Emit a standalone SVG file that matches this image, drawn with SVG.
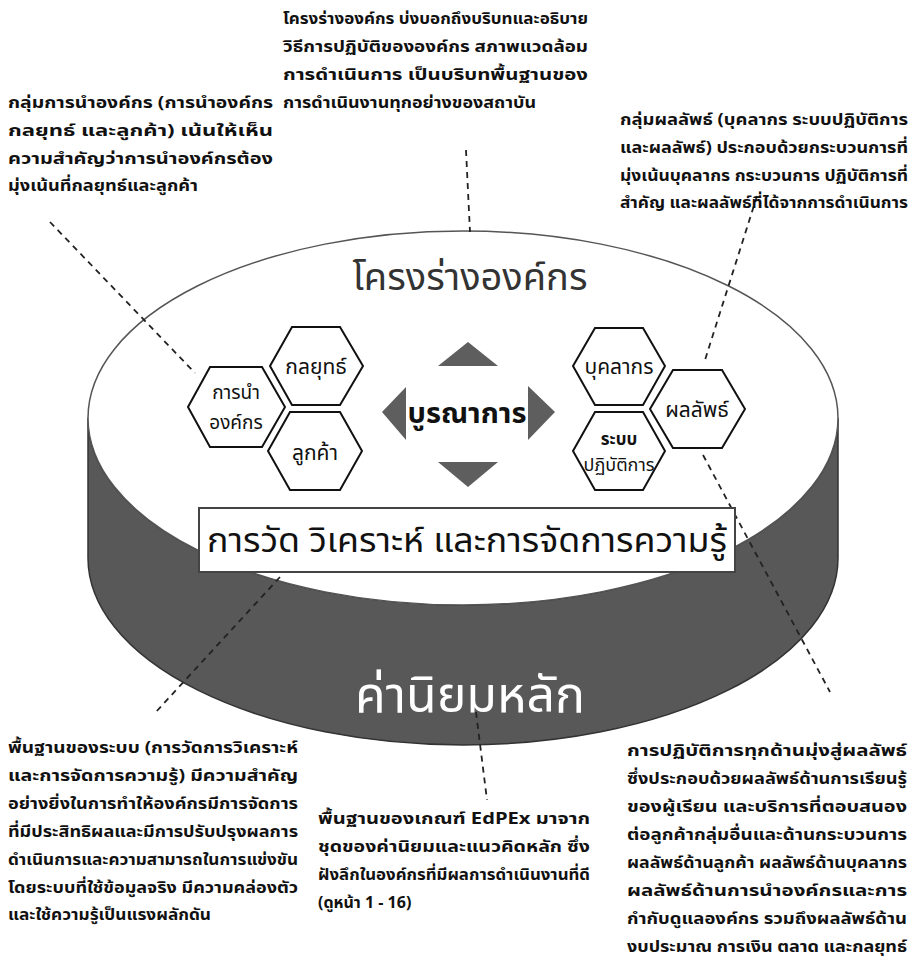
<svg xmlns="http://www.w3.org/2000/svg" width="914" height="964" viewBox="0 0 914 964">
<style>
.t{font-family:"Noto Sans Thai","Noto Sans","DejaVu Sans",sans-serif;fill:#111;}
.p{font-size:16px;font-weight:bold;}
.hx{fill:#fff;stroke:#111;stroke-width:2;}
.hl{font-size:21px;text-anchor:middle;}
.tri{fill:#5e5e5e;}
.dash{fill:none;stroke:#222;stroke-width:1.8;stroke-dasharray:6 5;}
</style>
<rect width="914" height="964" fill="#fff"/>
<g id="cylinder">
<path d="M88,418 A375,187 0 0 0 838,418 L838,558 A375,187 0 0 1 88,558 Z" fill="#585858" stroke="#333" stroke-width="1.5"/>
<ellipse cx="463" cy="418" rx="375" ry="187" fill="#fff" stroke="#555" stroke-width="1.5"/>
<text class="t" x="470" y="290" font-size="38" text-anchor="middle" style="fill:#333">โครงร่างองค์กร</text>
<text class="t" x="470" y="712" font-size="50" text-anchor="middle" style="fill:#fff">ค่านิยมหลัก</text>
</g>
<g id="connectors">
<line class="dash" x1="466" y1="150" x2="470" y2="232"/>
<line class="dash" x1="50" y1="222" x2="195" y2="373"/>
<line class="dash" x1="757" y1="196" x2="705" y2="360"/>
<line class="dash" x1="703" y1="455" x2="830" y2="692"/>
<line class="dash" x1="280" y1="577" x2="155" y2="713"/>
<line class="dash" x1="476" y1="712" x2="487" y2="800"/>
</g>
<g id="hex-lead">
<polygon class="hx" points="188,407 210,367 262,367 285,407 262,447 210,447"/>
<text class="t" x="236" y="399" font-size="19" text-anchor="middle">การนำ</text>
<text class="t" x="236" y="429" font-size="19" text-anchor="middle">องค์กร</text>
</g>
<g id="hex-strategy">
<polygon class="hx" points="270,366 292,327 340,327 363,366 340,405 292,405"/>
<text class="t hl" x="316" y="374">กลยุทธ์</text>
</g>
<g id="hex-customer">
<polygon class="hx" points="268,451 290,412 340,412 362,451 340,490 290,490"/>
<text class="t hl" x="315" y="460">ลูกค้า</text>
</g>
<g id="integration">
<polygon class="tri" points="468,342 438,366 498,366"/>
<polygon class="tri" points="382,412 406,387 406,440"/>
<polygon class="tri" points="555,412 528,386 528,440"/>
<polygon class="tri" points="468,487 438,462 498,462"/>
<text class="t" x="467" y="423" font-size="29" font-weight="bold" text-anchor="middle">บูรณาการ</text>
</g>
<g id="hex-workforce">
<polygon class="hx" points="573,366 595,328 643,328 665,366 643,405 595,405"/>
<text class="t hl" x="619" y="374">บุคลากร</text>
</g>
<g id="hex-operations">
<polygon class="hx" points="573,451 595,412 643,412 665,451 643,490 595,490"/>
<text class="t" x="619" y="445" font-size="17" font-weight="bold" text-anchor="middle">ระบบ</text>
<text class="t" x="619" y="471" font-size="18" text-anchor="middle">ปฏิบัติการ</text>
</g>
<g id="hex-results">
<polygon class="hx" points="650,409 673,370 722,370 745,409 722,448 673,448"/>
<text class="t hl" x="697" y="417">ผลลัพธ์</text>
</g>
<g id="measurement">
<rect x="199" y="508" width="536" height="64" fill="#fff" stroke="#444" stroke-width="2"/>
<text class="t" x="467" y="552" font-size="33" text-anchor="middle" textLength="520" lengthAdjust="spacingAndGlyphs">การวัด วิเคราะห์ และการจัดการความรู้</text>
</g>
<g id="note-top">
<text class="t p" x="283" y="24" textLength="305" lengthAdjust="spacingAndGlyphs">โครงร่างองค์กร บ่งบอกถึงบริบทและอธิบาย</text>
<text class="t p" x="283" y="52" textLength="305" lengthAdjust="spacingAndGlyphs">วิธีการปฏิบัติขององค์กร สภาพแวดล้อม</text>
<text class="t p" x="283" y="80" textLength="305" lengthAdjust="spacingAndGlyphs">การดำเนินการ เป็นบริบทพื้นฐานของ</text>
<text class="t p" x="283" y="108" textLength="253" lengthAdjust="spacingAndGlyphs">การดำเนินงานทุกอย่างของสถาบัน</text>
</g>
<g id="note-top-left">
<text class="t p" x="8" y="108" textLength="265" lengthAdjust="spacingAndGlyphs">กลุ่มการนำองค์กร (การนำองค์กร</text>
<text class="t p" x="8" y="136" textLength="265" lengthAdjust="spacingAndGlyphs">กลยุทธ์ และลูกค้า) เน้นให้เห็น</text>
<text class="t p" x="8" y="164" textLength="265" lengthAdjust="spacingAndGlyphs">ความสำคัญว่าการนำองค์กรต้อง</text>
<text class="t p" x="8" y="191" textLength="190" lengthAdjust="spacingAndGlyphs">มุ่งเน้นที่กลยุทธ์และลูกค้า</text>
</g>
<g id="note-top-right">
<text class="t p" x="620" y="125" textLength="288" lengthAdjust="spacingAndGlyphs">กลุ่มผลลัพธ์ (บุคลากร ระบบปฏิบัติการ</text>
<text class="t p" x="620" y="153" textLength="288" lengthAdjust="spacingAndGlyphs">และผลลัพธ์) ประกอบด้วยกระบวนการที่</text>
<text class="t p" x="620" y="181" textLength="288" lengthAdjust="spacingAndGlyphs">มุ่งเน้นบุคลากร กระบวนการ ปฏิบัติการที่</text>
<text class="t p" x="620" y="208" textLength="288" lengthAdjust="spacingAndGlyphs">สำคัญ และผลลัพธ์ที่ได้จากการดำเนินการ</text>
</g>
<g id="note-bottom-left">
<text class="t p" x="8" y="753" textLength="290" lengthAdjust="spacingAndGlyphs">พื้นฐานของระบบ (การวัดการวิเคราะห์</text>
<text class="t p" x="8" y="781" textLength="290" lengthAdjust="spacingAndGlyphs">และการจัดการความรู้) มีความสำคัญ</text>
<text class="t p" x="8" y="809" textLength="290" lengthAdjust="spacingAndGlyphs">อย่างยิ่งในการทำให้องค์กรมีการจัดการ</text>
<text class="t p" x="8" y="837" textLength="290" lengthAdjust="spacingAndGlyphs">ที่มีประสิทธิผลและมีการปรับปรุงผลการ</text>
<text class="t p" x="8" y="865" textLength="290" lengthAdjust="spacingAndGlyphs">ดำเนินการและความสามารถในการแข่งขัน</text>
<text class="t p" x="8" y="893" textLength="290" lengthAdjust="spacingAndGlyphs">โดยระบบที่ใช้ข้อมูลจริง มีความคล่องตัว</text>
<text class="t p" x="8" y="920" textLength="203" lengthAdjust="spacingAndGlyphs">และใช้ความรู้เป็นแรงผลักดัน</text>
</g>
<g id="note-bottom-center">
<text class="t p" x="318" y="824" textLength="272" lengthAdjust="spacingAndGlyphs">พื้นฐานของเกณฑ์ EdPEx มาจาก</text>
<text class="t p" x="318" y="852" textLength="272" lengthAdjust="spacingAndGlyphs">ชุดของค่านิยมและแนวคิดหลัก ซึ่ง</text>
<text class="t p" x="318" y="880" textLength="272" lengthAdjust="spacingAndGlyphs">ฝังลึกในองค์กรที่มีผลการดำเนินงานที่ดี</text>
<text class="t p" x="318" y="908">(ดูหน้า 1 - 16)</text>
</g>
<g id="note-bottom-right">
<text class="t p" x="627" y="756" textLength="280" lengthAdjust="spacingAndGlyphs">การปฏิบัติการทุกด้านมุ่งสู่ผลลัพธ์</text>
<text class="t p" x="627" y="784" textLength="280" lengthAdjust="spacingAndGlyphs">ซึ่งประกอบด้วยผลลัพธ์ด้านการเรียนรู้</text>
<text class="t p" x="627" y="812" textLength="280" lengthAdjust="spacingAndGlyphs">ของผู้เรียน และบริการที่ตอบสนอง</text>
<text class="t p" x="627" y="840" textLength="280" lengthAdjust="spacingAndGlyphs">ต่อลูกค้ากลุ่มอื่นและด้านกระบวนการ</text>
<text class="t p" x="627" y="868" textLength="280" lengthAdjust="spacingAndGlyphs">ผลลัพธ์ด้านลูกค้า ผลลัพธ์ด้านบุคลากร</text>
<text class="t p" x="627" y="896" textLength="280" lengthAdjust="spacingAndGlyphs">ผลลัพธ์ด้านการนำองค์กรและการ</text>
<text class="t p" x="627" y="924" textLength="280" lengthAdjust="spacingAndGlyphs">กำกับดูแลองค์กร รวมถึงผลลัพธ์ด้าน</text>
<text class="t p" x="627" y="952" textLength="280" lengthAdjust="spacingAndGlyphs">งบประมาณ การเงิน ตลาด และกลยุทธ์</text>
</g>
</svg>
